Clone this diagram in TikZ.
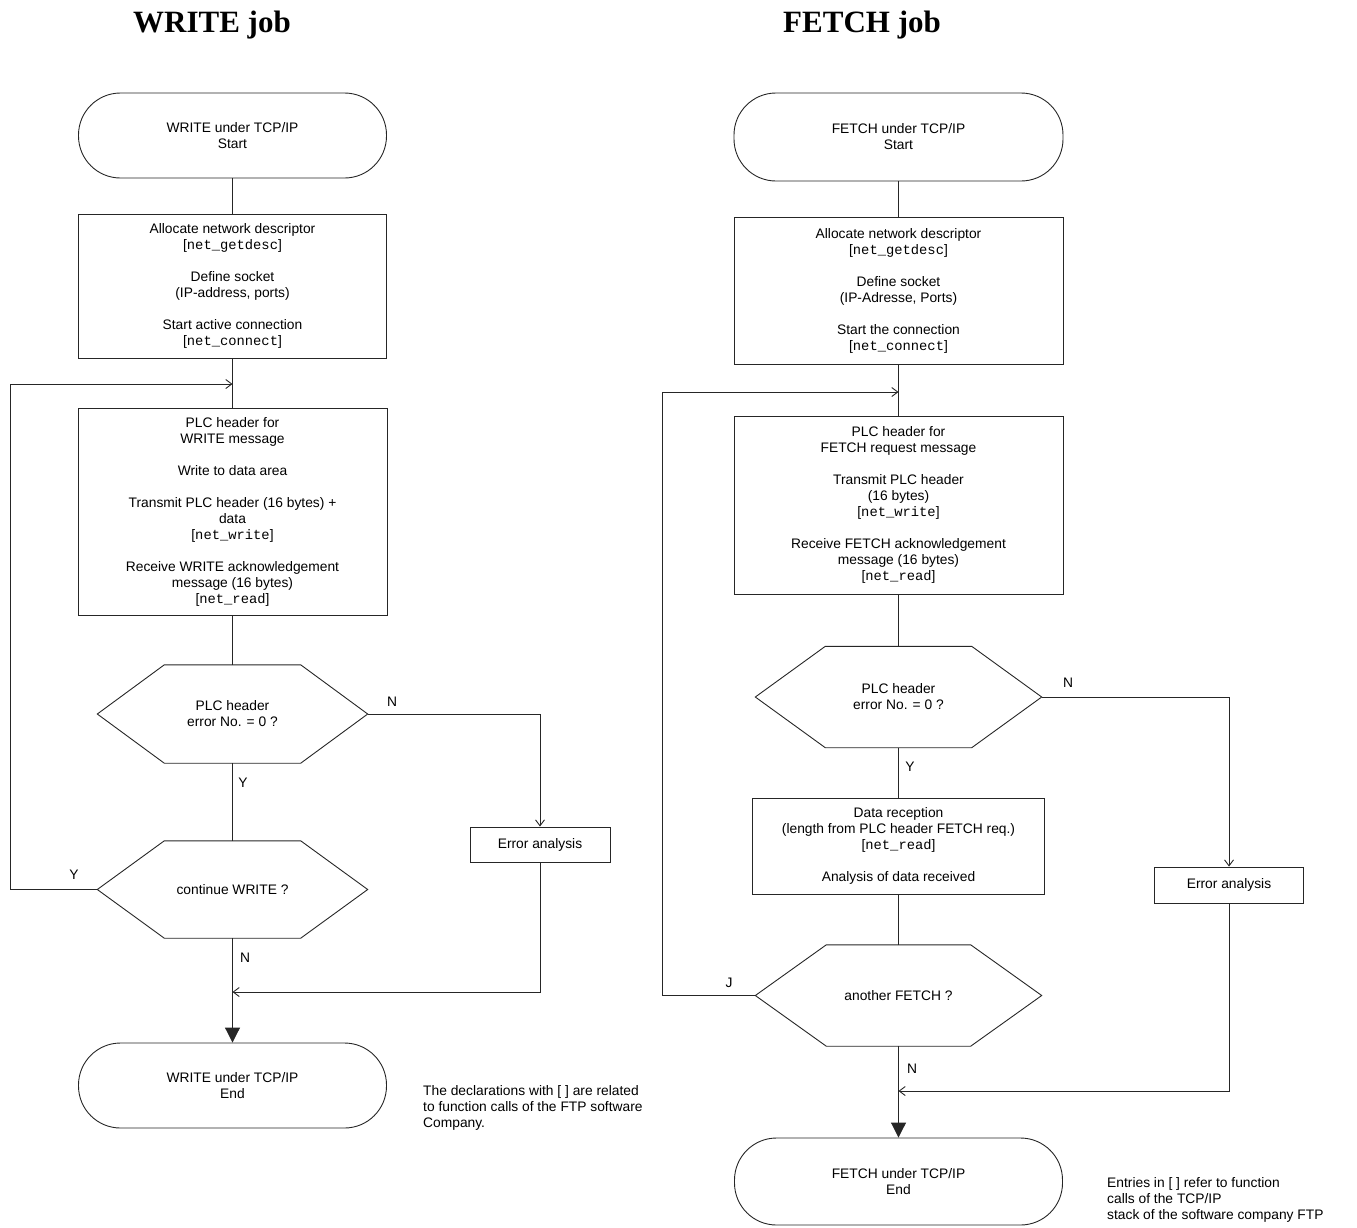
\documentclass[tikz,border=0pt]{standalone}
\usepackage{fontspec}
\setmainfont{Liberation Sans}
\setmonofont{Liberation Mono}
\newfontfamily\titlefont{Liberation Serif}
\usetikzlibrary{arrows.meta}
\newcommand\hexdraw[2]{\draw[lnk] (#1.west) -- ([xshift=#2]#1.north west) -- ([xshift=-#2]#1.north east) -- (#1.east) -- ([xshift=-#2]#1.south east) -- ([xshift=#2]#1.south west) -- cycle;}
\newcommand\fcall[1]{{[}\texttt{#1}{]}}
\begin{document}
\begin{tikzpicture}[x=1pt,y=-1pt,
  lnk/.style={draw=black!85, line width=0.9pt},
  txt/.style={font=\fontsize{13.8}{16}\selectfont},
  box/.style={txt, lnk, rectangle, inner sep=0pt, align=center},
  term/.style={box, rounded corners=42pt},
  hexn/.style={txt, rectangle, inner sep=0pt, align=center},
  lbl/.style={txt, inner sep=0pt},
  oarr/.style={lnk, -{Straight Barb[length=6pt,width=9pt]}},
  farr/.style={lnk, -{Triangle[length=15pt,width=15pt]}},
  ttl/.style={font=\titlefont\bfseries\fontsize{31}{36}\selectfont, inner sep=0pt, anchor=base}
]
\useasboundingbox (0,0) rectangle (1357,1227);

% titles
\node[ttl] (tW) at (212,32) {WRITE job};
\node[ttl] (tF) at (862,32) {FETCH job};

% ---------------- WRITE column ----------------
\node[term, minimum width=308pt, minimum height=85pt] (sL) at (232.5,135.5) {WRITE under TCP/IP\\Start};
\node[box, minimum width=308pt, minimum height=144pt] (b1L) at (232.5,286)
 {Allocate network descriptor\\\fcall{net\_getdesc}\\[16pt]Define socket\\(IP-address, ports)\\[16pt]Start active connection\\\fcall{net\_connect}};
\node[box, minimum width=309pt, minimum height=207pt] (b2L) at (232.5,511.5)
 {PLC header for\\WRITE message\\[16pt]Write to data area\\[16pt]Transmit PLC header (16 bytes) +\\data\\\fcall{net\_write}\\[16pt]Receive WRITE acknowledgement\\message (16 bytes)\\\fcall{net\_read}};
\node[hexn, minimum width=270pt, minimum height=98pt] (h1L) at (232.5,714) {PLC header\\error No. = 0 ?};
\hexdraw{h1L}{67pt}
\node[hexn, minimum width=270pt, minimum height=97pt] (h2L) at (232.5,889.5) {continue WRITE ?};
\hexdraw{h2L}{67pt}
\node[box, minimum width=140pt, minimum height=35pt] (eL) at (540,844.5) {Error analysis};
\node[term, minimum width=308pt, minimum height=85pt] (endL) at (232.5,1085.5) {WRITE under TCP/IP\\End};
\node[txt, align=left, anchor=west, inner sep=0pt] (noteL) at (423,1108)
 {The declarations with [ ] are related\\to function calls of the FTP software\\Company.};

\coordinate (mL) at (232.5,384);
\coordinate (lpL1) at (10,889.5);
\coordinate (lpL2) at (10,384);
\coordinate (nL) at (540,714);
\coordinate (eLd) at (540,992);
\coordinate (jL) at (232.5,992);

\draw[lnk] (sL.south) -- (b1L.north);
\draw[lnk] (b1L.south) -- (b2L.north);
\draw[oarr] (h2L.west) -- (lpL1) -- (lpL2) -- (mL);
\draw[lnk] (b2L.south) -- (h1L.north);
\draw[oarr] (h1L.east) -- (nL) -- (eL.north);
\draw[lnk] (h1L.south) -- (h2L.north);
\draw[oarr] (eL.south) -- (eLd) -- (jL);
\draw[farr] (h2L.south) -- (endL.north);

\node[lbl] (lNL) at (392,702) {N};
\node[lbl] (lYL) at (243,783) {Y};
\node[lbl] (lYL2) at (74,875) {Y};
\node[lbl] (lNL2) at (245,958) {N};

% ---------------- FETCH column ----------------
\node[term, minimum width=329pt, minimum height=88pt] (sR) at (898.5,137) {FETCH under TCP/IP\\Start};
\node[box, minimum width=329pt, minimum height=147pt] (b1R) at (898.5,290.5)
 {Allocate network descriptor\\\fcall{net\_getdesc}\\[16pt]Define socket\\(IP-Adresse, Ports)\\[16pt]Start the connection\\\fcall{net\_connect}};
\node[box, minimum width=329pt, minimum height=178pt] (b2R) at (898.5,505)
 {PLC header for\\FETCH request message\\[16pt]Transmit PLC header\\(16 bytes)\\\fcall{net\_write}\\[16pt]Receive FETCH acknowledgement\\message (16 bytes)\\\fcall{net\_read}};
\node[hexn, minimum width=286pt, minimum height=101pt] (h1R) at (898.5,697) {PLC header\\error No. = 0 ?};
\hexdraw{h1R}{70pt}
\node[box, minimum width=292pt, minimum height=96pt] (dR) at (898.5,846)
 {Data reception\\(length from PLC header FETCH req.)\\\fcall{net\_read}\\[16pt]Analysis of data received};
\node[box, minimum width=149pt, minimum height=36pt] (eR) at (1229,885) {Error analysis};
\node[hexn, minimum width=286pt, minimum height=101pt] (h2R) at (898.5,995.5) {another FETCH ?};
\hexdraw{h2R}{71pt}
\node[term, minimum width=328pt, minimum height=87pt] (endR) at (898.5,1181.5) {FETCH under TCP/IP\\End};
\node[txt, align=left, anchor=west, inner sep=0pt] (noteR) at (1107,1200)
 {Entries in [ ] refer to function\\calls of the TCP/IP\\stack of the software company FTP};

\coordinate (mR) at (898.5,392);
\coordinate (lpR1) at (662,995.5);
\coordinate (lpR2) at (662,392);
\coordinate (nR) at (1229,697);
\coordinate (eRd) at (1229,1091);
\coordinate (jR) at (898.5,1091);

\draw[lnk] (sR.south) -- (b1R.north);
\draw[lnk] (b1R.south) -- (b2R.north);
\draw[oarr] (h2R.west) -- (lpR1) -- (lpR2) -- (mR);
\draw[lnk] (b2R.south) -- (h1R.north);
\draw[oarr] (h1R.east) -- (nR) -- (eR.north);
\draw[lnk] (h1R.south) -- (dR.north);
\draw[lnk] (dR.south) -- (h2R.north);
\draw[oarr] (eR.south) -- (eRd) -- (jR);
\draw[farr] (h2R.south) -- (endR.north);

\node[lbl] (lNR) at (1068,683) {N};
\node[lbl] (lYR) at (910,767) {Y};
\node[lbl] (lJR) at (729,983) {J};
\node[lbl] (lNR2) at (912,1069) {N};
\end{tikzpicture}
\end{document}
